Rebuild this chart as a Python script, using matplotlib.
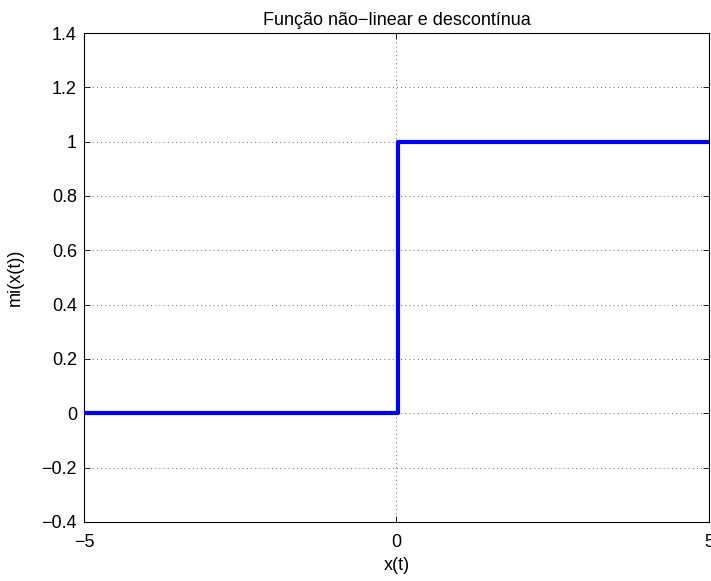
import matplotlib
matplotlib.use("Agg")
import matplotlib.pyplot as plt

plt.rcParams['font.family'] = ['Liberation Sans', 'DejaVu Sans']
plt.rcParams['font.size'] = 13

x = [-5, 0.02, 0.02, 5]
mi = [0, 0, 1, 1]

xticks = [-5, 0, 5]
yticks = [-0.4, -0.2, 0, 0.2, 0.4, 0.6, 0.8, 1, 1.2, 1.4]
ylabels = ["\u22120.4", "\u22120.2", "0", "0.2", "0.4", "0.6", "0.8", "1", "1.2", "1.4"]

fig = plt.figure(figsize=(7.11, 5.81), dpi=100)
ax = fig.add_axes([0.118, 0.1016, 0.879, 0.8416])

ax.plot(x, mi, color=(0, 0, 1), lw=3, zorder=3)

ax.set_xlim(-5, 5)
ax.set_ylim(-0.4, 1.4)
ax.set_xticks(xticks)
ax.set_xticklabels(["\u22125", "0", "5"])
ax.set_yticks(yticks)
ax.set_yticklabels(ylabels)
ax.tick_params(direction='in', top=True, right=True, length=4, width=0.6)
ax.tick_params(axis='y', pad=5)
ax.tick_params(axis='x', pad=9)
ax.grid(True, linestyle=(0, (1, 4)), color='black', linewidth=0.6, alpha=0.8)
for s in ax.spines.values():
    s.set_linewidth(0.8)

ax.set_xlabel("x(t)", labelpad=4)
ax.set_ylabel("mi(x(t))", labelpad=13)
ax.set_title("Função não\u2212linear e descontínua", fontsize=13, pad=6)

fig.savefig("out.png", dpi=100)
